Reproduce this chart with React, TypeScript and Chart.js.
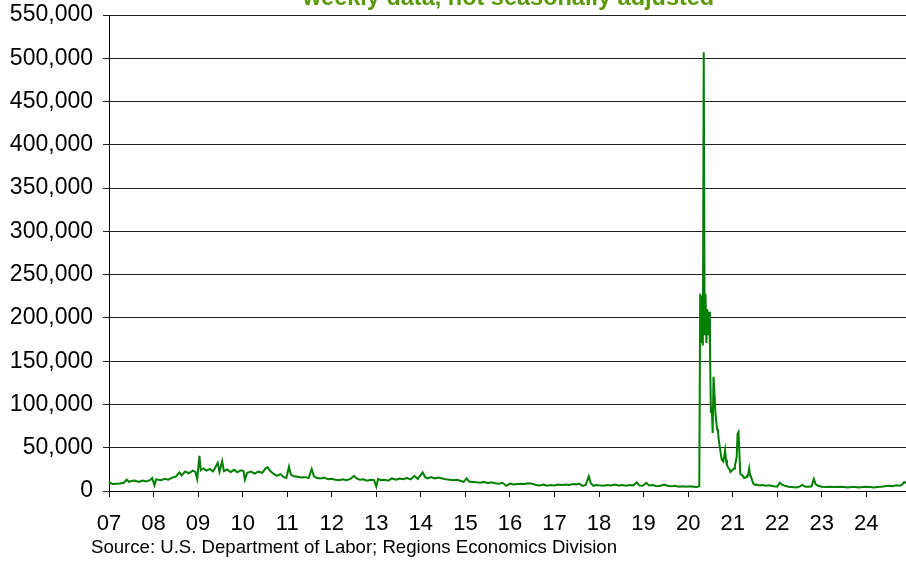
import React, { useEffect, useRef } from "react";
import { Chart, registerables } from "chart.js";

Chart.register(...registerables);

// Decimal year of each observation
const weeks: number[] = [
  2007.00, 2007.04, 2007.08, 2007.17, 2007.25, 2007.33, 2007.40, 2007.45, 2007.50, 2007.58, 2007.67, 2007.75, 2007.83, 2007.92, 2007.97,
  2008.02, 2008.06, 2008.17, 2008.25, 2008.33, 2008.42, 2008.50, 2008.58, 2008.63, 2008.71, 2008.79, 2008.88, 2008.94, 2008.98,
  2009.03, 2009.06, 2009.12, 2009.19, 2009.27, 2009.33, 2009.38, 2009.44, 2009.48, 2009.54, 2009.58, 2009.65, 2009.73, 2009.81, 2009.88, 2009.96,
  2010.02, 2010.05, 2010.10, 2010.19, 2010.27, 2010.35, 2010.44, 2010.52, 2010.56, 2010.62, 2010.69, 2010.77, 2010.85, 2010.92, 2010.98,
  2011.04, 2011.08, 2011.15, 2011.23, 2011.31, 2011.40, 2011.48, 2011.55, 2011.60, 2011.67, 2011.75, 2011.83, 2011.92,
  2012.00, 2012.08, 2012.17, 2012.25, 2012.33, 2012.42, 2012.50, 2012.56, 2012.63, 2012.71, 2012.79, 2012.88, 2012.95,
  2013.00, 2013.04, 2013.10, 2013.19, 2013.27, 2013.35, 2013.44, 2013.52, 2013.60, 2013.69, 2013.77, 2013.86, 2013.93,
  2014.04, 2014.10, 2014.15, 2014.23, 2014.31, 2014.40, 2014.48, 2014.56, 2014.65, 2014.73, 2014.81, 2014.90, 2014.96,
  2015.03, 2015.08, 2015.17, 2015.25, 2015.33, 2015.42, 2015.50, 2015.58, 2015.67, 2015.75, 2015.83, 2015.92,
  2016.00, 2016.08, 2016.17, 2016.25, 2016.33, 2016.42, 2016.50, 2016.58, 2016.67, 2016.75, 2016.83, 2016.92,
  2017.00, 2017.08, 2017.17, 2017.25, 2017.33, 2017.42, 2017.50, 2017.55, 2017.63, 2017.70, 2017.77, 2017.81, 2017.87, 2017.94,
  2018.02, 2018.10, 2018.19, 2018.27, 2018.35, 2018.44, 2018.52, 2018.60, 2018.69, 2018.77, 2018.85, 2018.90, 2018.98,
  2019.06, 2019.12, 2019.21, 2019.29, 2019.38, 2019.46, 2019.54, 2019.63, 2019.71, 2019.79, 2019.88, 2019.96,
  2020.04, 2020.12, 2020.19, 2020.23, 2020.25,
  2020.27, 2020.29, 2020.31, 2020.33, 2020.35, 2020.37, 2020.39, 2020.41, 2020.43, 2020.45, 2020.47, 2020.49,
  2020.51, 2020.53, 2020.55, 2020.57, 2020.59, 2020.61, 2020.63, 2020.65, 2020.67, 2020.69, 2020.71, 2020.73,
  2020.75, 2020.77, 2020.79, 2020.81, 2020.83, 2020.85, 2020.87, 2020.89, 2020.91, 2020.93, 2020.95, 2020.97, 2020.99,
  2021.01, 2021.03, 2021.05, 2021.07, 2021.09, 2021.11, 2021.13, 2021.15, 2021.17, 2021.19, 2021.21, 2021.23, 2021.25,
  2021.27, 2021.29, 2021.31, 2021.33, 2021.35, 2021.37, 2021.39, 2021.41, 2021.44, 2021.47, 2021.50,
  2021.54, 2021.60, 2021.67, 2021.75, 2021.83, 2021.92,
  2022.00, 2022.06, 2022.10, 2022.17, 2022.25, 2022.33, 2022.42, 2022.50, 2022.56, 2022.63, 2022.71, 2022.77, 2022.82, 2022.86, 2022.92,
  2023.00, 2023.08, 2023.17, 2023.25, 2023.33, 2023.42, 2023.50, 2023.58, 2023.67, 2023.75, 2023.83, 2023.92,
  2024.00, 2024.08, 2024.17, 2024.25, 2024.33, 2024.42, 2024.50, 2024.58, 2024.67, 2024.75, 2024.81, 2024.85, 2024.89,
];

// Initial claims, thousands
const claims: number[] = [
  10.5, 9.0, 8.0, 8.5, 8.8, 9.5, 13.0, 10.5, 11.5, 12.0, 10.5, 12.0, 11.0, 12.5, 15.0,
  6.5, 13.5, 12.5, 14.0, 13.0, 15.5, 16.5, 21.5, 18.0, 22.5, 20.5, 23.5, 22.0, 14.0,
  40.5, 24.0, 26.0, 23.5, 25.5, 22.5, 26.5, 32.5, 22.0, 34.5, 23.0, 25.0, 22.0, 24.5, 21.5, 24.0,
  23.0, 13.0, 21.0, 22.5, 20.0, 22.5, 21.0, 26.5, 27.5, 23.0, 20.0, 17.5, 19.5, 16.0, 15.0,
  28.0, 19.0, 17.0, 16.5, 15.5, 16.0, 15.0, 25.5, 17.0, 15.0, 14.5, 15.5, 13.5,
  14.0, 13.0, 12.5, 13.5, 12.5, 14.0, 17.5, 14.5, 13.0, 13.5, 12.0, 13.0, 12.5,
  5.0, 14.0, 12.5, 13.0, 12.0, 14.5, 13.0, 14.5, 13.5, 15.0, 13.5, 17.5, 14.0,
  21.5, 16.0, 14.5, 16.0, 14.5, 15.5, 14.5, 13.5, 13.0, 12.5, 13.0, 11.5, 10.5,
  14.5, 11.0, 10.5, 10.0, 9.5, 10.5, 9.0, 10.0, 9.0, 8.5, 9.5, 6.0,
  8.5, 7.5, 8.0, 8.5, 8.0, 9.0, 8.5, 7.0, 6.5, 7.5, 6.0, 7.0,
  6.5, 7.5, 7.0, 7.5, 7.0, 8.0, 7.5, 8.5, 6.0, 7.0, 17.0, 9.5, 6.0, 7.0,
  6.5, 6.0, 7.0, 6.5, 7.5, 6.5, 7.0, 6.0, 7.0, 6.5, 10.0, 6.5, 6.0,
  9.5, 6.5, 7.0, 5.5, 6.0, 7.5, 6.0, 5.5, 6.0, 5.0, 5.5, 5.0,
  5.5, 5.0, 4.5, 5.0, 5.5,
  228, 172, 226, 168, 507, 180, 228, 171, 210, 180, 207, 166,
  90, 97, 67, 132, 113, 92, 80, 72, 68, 58, 51, 44,
  37, 35, 34, 40, 47, 36, 30, 28, 26, 25, 22, 23, 24,
  25, 26, 30, 34, 40, 66, 68, 45, 20, 19, 18.5, 17, 16,
  15, 15.5, 17, 16.5, 20, 26, 18, 16.5, 12, 8, 7,
  7.5, 6.5, 7.0, 6.0, 6.5, 5.5,
  5.0, 9.5, 7.5, 6.0, 5.0, 4.5, 4.0, 5.0, 7.0, 5.0, 5.0, 5.5, 14.0, 8.0, 6.0,
  5.0, 4.5, 5.0, 4.5, 4.5, 5.0, 4.5, 4.0, 4.5, 4.5, 4.0, 4.5,
  5.0, 4.5, 4.0, 4.5, 5.0, 5.5, 6.0, 5.5, 6.5, 6.0, 7.5, 10.5, 9.0,
];

const yTicks: number[] = [0, 50000, 100000, 150000, 200000, 250000, 300000, 350000, 400000, 450000, 500000, 550000];
const yearLabels: string[] = ["07", "08", "09", "10", "11", "12", "13", "14", "15", "16", "17", "18", "19", "20", "21", "22", "23", "24"];
const subtitle = "weekly data, not seasonally adjusted";
const sourceNote = "Source: U.S. Department of Labor; Regions Economics Division";

const FONT = "'Liberation Sans', Arial, sans-serif";

const textPlugin = {
  id: "textPlugin",
  afterDraw(chart: any) {
    const { ctx, chartArea } = chart;
    ctx.save();
    ctx.fillStyle = "#5a9a0a";
    ctx.font = `bold 23.5px ${FONT}`;
    ctx.textAlign = "center";
    ctx.textBaseline = "alphabetic";
    ctx.fillText(subtitle, (chartArea.left + chartArea.right) / 2 + 1, 5);
    ctx.fillStyle = "#000";
    ctx.font = `18.6px ${FONT}`;
    ctx.textAlign = "left";
    ctx.textBaseline = "middle";
    ctx.fillText(sourceNote, 91, 548);
    ctx.restore();
  },
};

export default function App() {
  const ref = useRef<HTMLCanvasElement | null>(null);
  useEffect(() => {
    if (!ref.current) return;
    const data = weeks.map((w, i) => ({ x: w, y: claims[i] * 1000 }));
    const chart = new Chart(ref.current, {
      type: "line",
      data: {
        datasets: [
          {
            data,
            borderColor: "rgb(0,128,0)",
            borderWidth: 2,
            pointRadius: 0,
            tension: 0,
            fill: false,
          },
        ],
      },
      options: {
        animation: false,
        responsive: false,
        layout: { padding: { top: 15, right: 0, bottom: 0, left: 0 } },
        plugins: { legend: { display: false }, tooltip: { enabled: false }, title: { display: false } },
        scales: {
          x: {
            type: "linear",
            min: 2007,
            max: 2024.89,
            afterFit: (s: any) => { s.height = 70; s.paddingLeft = 0; s.paddingRight = 0; },
            border: { color: "#000", width: 1 },
            grid: { drawOnChartArea: false, drawTicks: true, tickLength: 6, color: "#000" },
            ticks: {
              stepSize: 1,
              includeBounds: false,
              autoSkip: false,
              maxRotation: 0,
              padding: 14,
              color: "#000",
              font: { family: FONT, size: 22 },
              callback: (v: any) => {
                const idx = Math.round(Number(v)) - 2007;
                if (Math.abs(Number(v) - Math.round(Number(v))) > 1e-6) return "";
                return yearLabels[idx] ?? "";
              },
            },
          },
          y: {
            min: yTicks[0],
            max: yTicks[yTicks.length - 1],
            afterFit: (s: any) => { s.width = 109; s.paddingTop = 0; s.paddingBottom = 0; },
            afterBuildTicks: (s: any) => { s.ticks = yTicks.map((v) => ({ value: v })); },
            border: { color: "#000", width: 1 },
            grid: { color: "#222", lineWidth: 1, tickLength: 6, drawTicks: true },
            ticks: {
              padding: 10,
              color: "#000",
              font: { family: FONT, size: 23 },
              callback: (v: any) => Number(v).toLocaleString("en-US"),
            },
          },
        },
      },
      plugins: [textPlugin],
    });
    return () => chart.destroy();
  }, []);
  return (
    <div style={{ position: "absolute", left: 0, top: 0, width: 906, height: 561, background: "#fff" }}>
      <canvas ref={ref} width={906} height={561} style={{ display: "block" }} />
    </div>
  );
}
